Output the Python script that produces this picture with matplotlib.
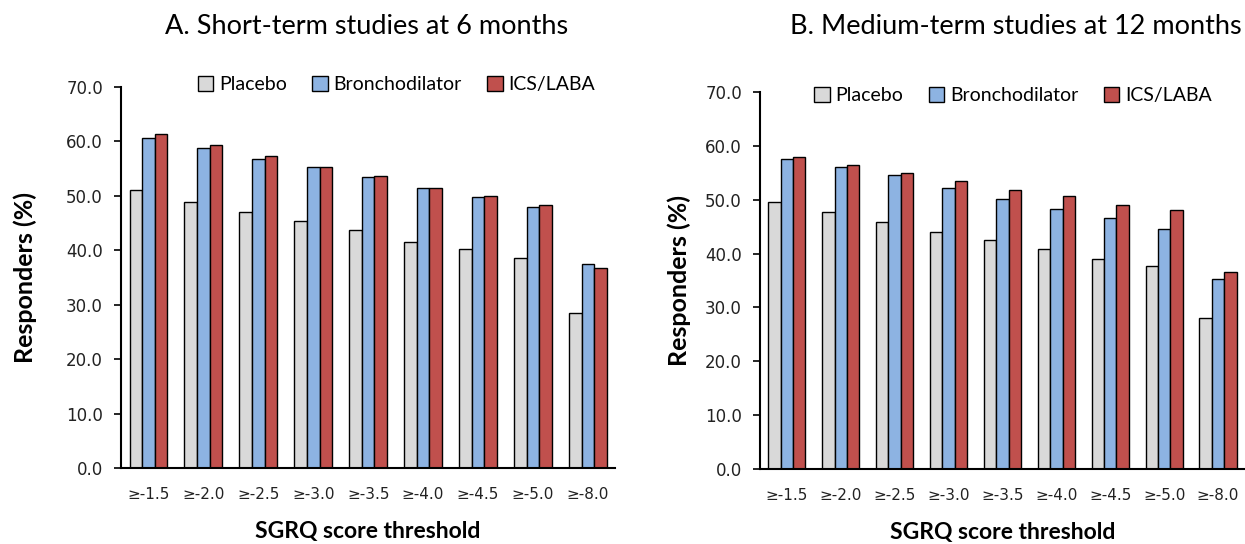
import matplotlib
matplotlib.use("Agg")
import matplotlib.pyplot as plt
import numpy as np

categories = ["≥-1.5", "≥-2.0", "≥-2.5", "≥-3.0", "≥-3.5", "≥-4.0", "≥-4.5", "≥-5.0", "≥-8.0"]
series_names = ["Placebo", "Bronchodilator", "ICS/LABA"]

a_placebo = [51.1, 48.8, 47.1, 45.4, 43.7, 41.6, 40.2, 38.5, 28.5]
a_broncho = [60.6, 58.8, 56.8, 55.3, 53.4, 51.4, 49.7, 47.9, 37.4]
a_icslaba = [61.4, 59.3, 57.3, 55.3, 53.6, 51.4, 49.9, 48.3, 36.7]

b_placebo = [49.6, 47.8, 45.8, 44.0, 42.5, 40.8, 39.0, 37.6, 28.1]
b_broncho = [57.6, 56.1, 54.5, 52.2, 50.1, 48.3, 46.6, 44.5, 35.3]
b_icslaba = [57.9, 56.4, 55.0, 53.5, 51.8, 50.6, 49.0, 48.0, 36.5]

titles = ["A. Short-term studies at 6 months", "B. Medium-term studies at 12 months"]
colors = ["#d9d9d9", "#8db3e2", "#c0504d"]

fig = plt.figure(figsize=(12.45, 5.44), dpi=100)
ax1 = fig.add_axes([0.0972, 0.1397, 0.397, 0.7004])
ax2 = fig.add_axes([0.6104, 0.1379, 0.3896, 0.693])

text_font = ["Lato", "DejaVu Sans"]
tick_font = ["DejaVu Sans"]

def draw(ax, data, legend_x, legend_y, ylab_x, xlab_y):
    x = np.arange(len(categories))
    w = 0.23
    for i, (vals, name) in enumerate(zip(data, series_names)):
        ax.bar(x + (i - 1) * w, vals, width=w, color=colors[i], edgecolor="black",
               linewidth=1.0, label=name, zorder=2)
    ax.set_xlim(-0.5, len(categories) - 0.5)
    ax.set_ylim(0, 70)
    ax.set_yticks(np.arange(0, 71, 10))
    ax.set_yticklabels([f"{v:.1f}" for v in np.arange(0, 71, 10)], fontsize=12,
                       family=tick_font, color="#222222")
    ax.set_xticks(x)
    ax.set_xticklabels(categories, fontsize=11, family=tick_font, color="#222222")
    ax.tick_params(axis="x", length=0, pad=14)
    ax.tick_params(axis="y", length=5, width=1.2, direction="out", pad=8)
    for s in ["top", "right"]:
        ax.spines[s].set_visible(False)
    for s in ["left", "bottom"]:
        ax.spines[s].set_linewidth(1.5)
    ax.set_xlabel("SGRQ score threshold", fontsize=16.5, fontweight="bold",
                  family=text_font)
    ax.set_ylabel("Responders (%)", fontsize=18, fontweight="bold",
                  family=text_font)
    ax.yaxis.set_label_coords(ylab_x, 0.5)
    ax.xaxis.set_label_coords(0.5, xlab_y)
    ax.legend(loc="upper center", bbox_to_anchor=(legend_x, legend_y), ncol=3,
              frameon=False, prop={"family": text_font, "size": 14},
              handlelength=0.8, handleheight=0.8, handletextpad=0.3,
              columnspacing=1.3)

draw(ax1, [a_placebo, a_broncho, a_icslaba], 0.557, 1.075, -0.17, -0.14)
draw(ax2, [b_placebo, b_broncho, b_icslaba], 0.522, 1.06, -0.142, -0.14)

fig.text(367 / 1245, 1 - 27 / 544, titles[0], fontsize=19.5, family=text_font,
         ha="center", va="center")
fig.text(1016 / 1245, 1 - 27 / 544, titles[1], fontsize=19.5, family=text_font,
         ha="center", va="center")

fig.savefig("out.png", dpi=100)
